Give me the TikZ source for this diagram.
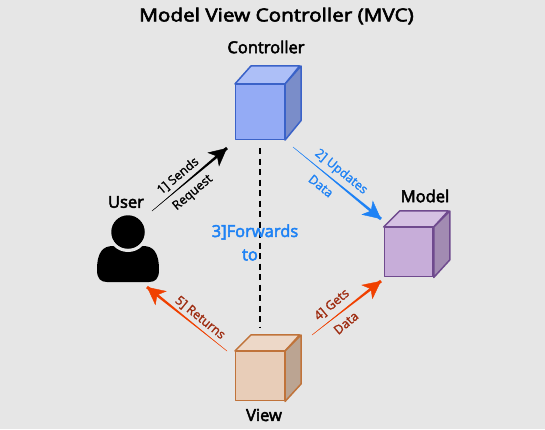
\documentclass[tikz,border=0pt]{standalone}
\usepackage{fontspec}
\setmainfont{Open Sans}
\newfontfamily\semifont[RawFeature={embolden=3}]{Open Sans}
\newfontfamily\labelfont[RawFeature={embolden=1.5}]{Open Sans}
\usepackage{xcolor}
\usetikzlibrary{arrows.meta,positioning,calc}
\definecolor{Canvas}{HTML}{E6E6E6}
\definecolor{CtrlFront}{HTML}{94ABF5}
\definecolor{CtrlTop}{HTML}{ADBFF7}
\definecolor{CtrlSide}{HTML}{7A8DC9}
\definecolor{CtrlStroke}{HTML}{3A62C8}
\definecolor{ModelFront}{HTML}{C7ADD9}
\definecolor{ModelTop}{HTML}{D5C1E3}
\definecolor{ModelSide}{HTML}{A28BB2}
\definecolor{ModelStroke}{HTML}{6F4A8E}
\definecolor{ViewFront}{HTML}{E8CDB8}
\definecolor{ViewTop}{HTML}{EDD8C8}
\definecolor{ViewSide}{HTML}{BBA492}
\definecolor{ViewStroke}{HTML}{C0733A}
\definecolor{BlueFlow}{HTML}{1E82F5}
\definecolor{RedFlow}{HTML}{F04000}
\definecolor{RedText}{HTML}{9E2B10}
\tikzset{
  heading/.style={font=\fontsize{16.5}{18}\semifont, text=black},
  flowlabel/.style={font=\fontsize{12.5}{14}\labelfont, inner sep=0pt},
  bluelabel/.style={font=\fontsize{16.5}{18}\semifont, text=BlueFlow, inner sep=0pt},
  flowtip/.style={line width=0.4pt, -{Stealth[length=18pt,width=18pt,inset=5pt]}},
  cubeface/.style={draw, line width=1.5pt, line join=round, minimum width=48.6pt, inner sep=0pt}
}
% #1 name, #2 centre of front face, #3 colour prefix, #4 height, #5 rise
\newcommand{\cubebox}[5]{
  \node[cubeface, draw=#3Stroke, fill=#3Front, minimum height=#4pt] (#1) at (#2) {};
  \draw[#3Stroke, line width=1.5pt, line join=round, fill=#3Top] (#1.north west) -- ++(16,-#5) -- ++(48.6,0) -- (#1.north east) -- cycle;
  \draw[#3Stroke, line width=1.5pt, line join=round, fill=#3Side] (#1.north east) -- ++(16,-#5) -- ++(0,#4) -- (#1.south east) -- cycle;
}
\newcommand{\flowarrow}[3]{
  \fill[#3] (#1) -- ($(#2)!1.5pt!90:(#1)$) -- ($(#2)!1.5pt!-90:(#1)$) -- cycle;
  \draw[#3, flowtip] (#1) -- (#2);
}
\begin{document}
\begin{tikzpicture}[x=1pt, y=-1pt]
  \path[use as bounding box, fill=Canvas] (0,0) rectangle (545,429);

  \node[font=\fontsize{18}{20}\semifont, xscale=1.15] (title) at (276.5,16) {Model View Controller (MVC)};

  \cubebox{ctrl}{260,112}{Ctrl}{54.6}{18}
  \cubebox{model}{408.7,252.2}{Model}{49}{16}
  \cubebox{view}{260,376.2}{View}{49}{16}

  \node[heading] (ctrlname) at (266,47) {Controller};
  \node[heading] (modelname) at (425,196) {Model};
  \node[heading] (viewname) at (264,415) {View};
  \node[heading] (username) at (126,202) {User};

  % user icon
  \fill[black] (97,270) .. controls (97,252) and (103,246) .. (113,246) -- (143,246) .. controls (153,246) and (159,252) .. (159,270) .. controls (159,279) and (155,282) .. (149,282) -- (107,282) .. controls (101,282) and (97,279) .. (97,270) -- cycle;
  \fill[Canvas] (128,232) circle (20);
  \node[circle, fill=black, minimum size=33.5pt, inner sep=0pt] (usr) at (128,232) {};

  \coordinate (usrout) at (152,211);
  \coordinate (ctrlin) at (227,148);
  \coordinate (ctrlout) at (293,147);
  \coordinate (modelin) at (381,219);
  \coordinate (viewout) at (312,335);
  \coordinate (modelin2) at (381,281);
  \coordinate (viewback) at (227,351);
  \coordinate (usrin) at (147,287);

  \flowarrow{usrout}{ctrlin}{black}
  \flowarrow{ctrlout}{modelin}{BlueFlow}
  \flowarrow{viewout}{modelin2}{RedFlow}
  \flowarrow{viewback}{usrin}{RedFlow}
  \draw[black, line width=1.8pt, dash pattern=on 6pt off 4.5pt, shorten >=24pt] ($(ctrl.south)+(0,8)$) -- (view.north);

  \node[flowlabel, rotate=40] (sends) at (178,176) {1] Sends};
  \node[flowlabel, rotate=40] (request) at (193,193) {Request};
  \node[flowlabel, rotate=-39, text=BlueFlow] (updates) at (341,172) {2] Updates};
  \node[flowlabel, rotate=-39, text=BlueFlow] (data) at (321,186) {Data};
  \node[bluelabel] (forwards) at (255,232) {3]Forwards};
  \node[bluelabel] (to) at (250,255) {to};
  \node[flowlabel, rotate=40, text=RedText] (gets) at (332,305) {4] Gets};
  \node[flowlabel, rotate=40, text=RedText] (getsdata) at (346,323) {Data};
  \node[flowlabel, rotate=-39, text=RedText] (returns) at (200,318) {5] Returns};
\end{tikzpicture}
\end{document}
